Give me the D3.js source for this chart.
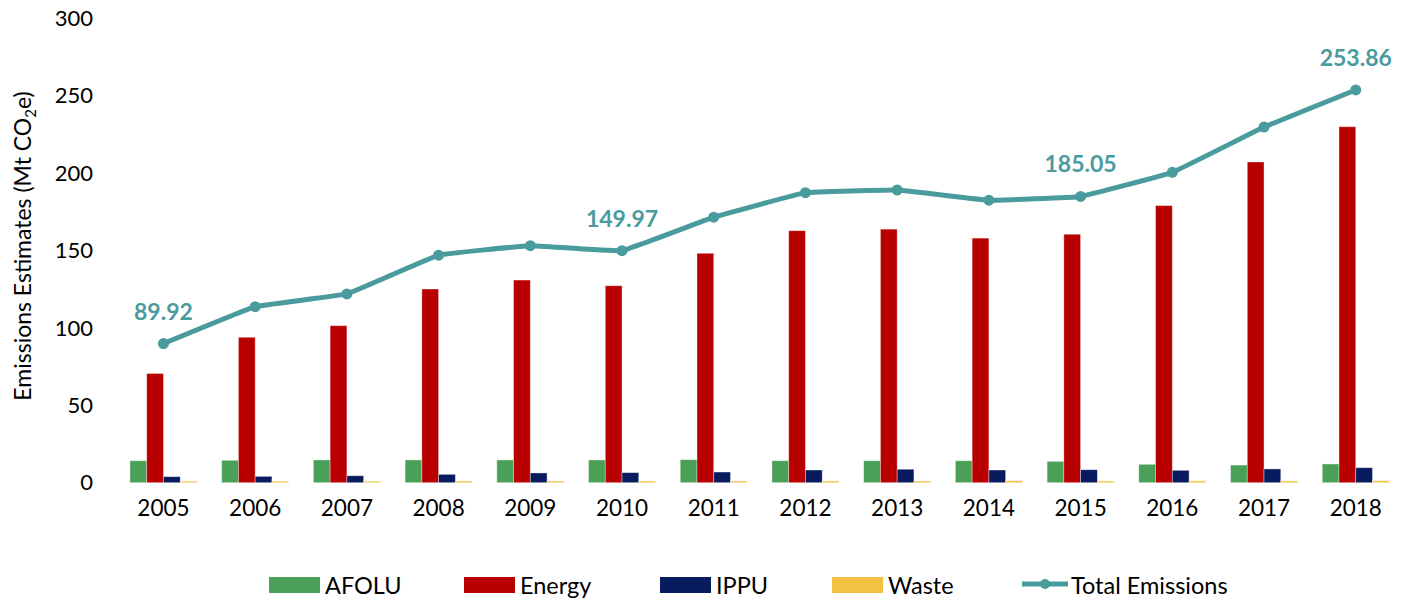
<!DOCTYPE html>
<html>
<head>
<meta charset="utf-8">
<script src="https://cdn.jsdelivr.net/npm/d3@7"></script>
<style>
  html, body { margin: 0; padding: 0; background: #fff; }
  svg { display: block; font-family: Lato, "Noto Sans", sans-serif; }
</style>
</head>
<body>
<svg id="chart" width="1410" height="601"></svg>
<script>
// Emissions by sector, Mt CO2e
const years = ["2005","2006","2007","2008","2009","2010","2011","2012","2013","2014","2015","2016","2017","2018"];
const afolu  = [14.2,14.5,14.7,14.7,14.7,14.7,14.9,14.2,14.2,14.2,13.8,11.9,11.4,12.1];
const energy = [70.6,94.0,101.5,125.2,131.0,127.3,148.3,162.9,163.9,158.1,160.6,179.1,207.3,230.1];
const ippu   = [3.9,4.1,4.5,5.4,6.3,6.5,6.9,8.2,8.7,8.2,8.4,8.0,8.9,9.7];
const waste  = [1.0,1.0,1.0,1.1,1.1,1.1,1.1,1.1,1.1,1.3,1.1,1.2,1.2,1.3];
const total  = [89.92,113.8,122.0,147.1,153.2,149.97,171.6,187.5,189.2,182.6,185.05,200.6,229.9,253.86];
const labelledYears = ["2005","2010","2015","2018"];
const yTicks = [0,50,100,150,200,250,300];

const seriesNames = ["AFOLU","Energy","IPPU","Waste"];
const seriesValues = [afolu, energy, ippu, waste];
const colors = { AFOLU: "#4aa057", Energy: "#b90000", IPPU: "#081b5e", Waste: "#f4c243", Total: "#4a9b9d" };

const svg = d3.select("#chart");

const x = d3.scaleBand().domain(years).range([117.6, 1401.6]).padding(0);
const step = x.bandwidth();
const groupW = 67;
const x1 = d3.scaleBand().domain(seriesNames).range([(step - groupW) / 2, (step + groupW) / 2]).padding(0);
const y = d3.scaleLinear().domain([0, 300]).range([482.7, 18.6]);

// y axis: labels only
const yAxis = svg.append("g")
  .attr("transform", "translate(93,0)")
  .call(d3.axisLeft(y).tickValues(yTicks).tickSize(0).tickPadding(0));
yAxis.select(".domain").remove();
yAxis.selectAll("text").attr("font-size", 22).attr("fill", "#000").attr("font-family", "Lato");

// x axis labels
const xAxis = svg.append("g")
  .attr("transform", "translate(0,500)")
  .call(d3.axisBottom(x).tickSize(0).tickPadding(0));
xAxis.select(".domain").remove();
xAxis.selectAll("text").attr("font-size", 22.5).attr("fill", "#000").attr("font-family", "Lato").attr("dy", "0.71em");

// y axis title
svg.append("text")
  .attr("transform", "translate(31,246) rotate(-90)")
  .attr("text-anchor", "middle")
  .attr("font-size", 23)
  .attr("fill", "#000")
  .call(t => {
    t.append("tspan").text("Emissions Estimates (Mt CO");
    t.append("tspan").attr("font-size", 15).attr("dy", 5).text("2");
    t.append("tspan").attr("dy", -5).text("e)");
  });

// grouped bars
const groups = svg.append("g").selectAll("g")
  .data(years)
  .join("g")
  .attr("transform", d => `translate(${x(d)},0)`);

groups.selectAll("rect")
  .data((d, i) => seriesNames.map((s, k) => ({ key: s, value: seriesValues[k][i] })))
  .join("rect")
  .attr("x", d => x1(d.key))
  .attr("width", x1.bandwidth())
  .attr("y", d => y(d.value))
  .attr("height", d => y(0) - y(d.value))
  .attr("fill", d => colors[d.key])
  .attr("stroke", "rgba(255,255,255,0.45)")
  .attr("stroke-width", 0.8);

// total emissions line
const pts = years.map((yr, i) => ({ yr, v: total[i] }));
const line = d3.line()
  .x(d => x(d.yr) + step / 2)
  .y(d => y(d.v))
  .curve(d3.curveCardinal.tension(0.8));

svg.append("path")
  .datum(pts)
  .attr("d", line)
  .attr("fill", "none")
  .attr("stroke", colors.Total)
  .attr("stroke-width", 5)
  .attr("stroke-linejoin", "round");

svg.append("g").selectAll("circle")
  .data(pts)
  .join("circle")
  .attr("cx", d => x(d.yr) + step / 2)
  .attr("cy", d => y(d.v))
  .attr("r", 5.5)
  .attr("fill", colors.Total);

svg.append("g").selectAll("text")
  .data(pts.filter(d => labelledYears.includes(d.yr)))
  .join("text")
  .attr("x", d => x(d.yr) + step / 2)
  .attr("y", d => y(d.v) - 24)
  .attr("text-anchor", "middle")
  .attr("font-size", 23)
  .attr("font-weight", "bold")
  .attr("fill", colors.Total)
  .text(d => d.v.toFixed(2));

// legend
const legendItems = [
  { key: "AFOLU", x: 269 },
  { key: "Energy", x: 464 },
  { key: "IPPU", x: 660 },
  { key: "Waste", x: 832 }
];
const legend = svg.append("g");
legendItems.forEach(it => {
  legend.append("rect")
    .attr("x", it.x).attr("y", 577)
    .attr("width", 51).attr("height", 16)
    .attr("fill", colors[it.key]);
  legend.append("text")
    .attr("x", it.x + 56).attr("y", 594)
    .attr("font-size", 23.5).attr("fill", "#000")
    .text(it.key);
});
legend.append("line")
  .attr("x1", 1022).attr("x2", 1068)
  .attr("y1", 584).attr("y2", 584)
  .attr("stroke", colors.Total).attr("stroke-width", 5);
legend.append("circle")
  .attr("cx", 1045).attr("cy", 584).attr("r", 5)
  .attr("fill", colors.Total);
legend.append("text")
  .attr("x", 1071).attr("y", 594)
  .attr("font-size", 23.5).attr("fill", "#000")
  .text("Total Emissions");
</script>
</body>
</html>
